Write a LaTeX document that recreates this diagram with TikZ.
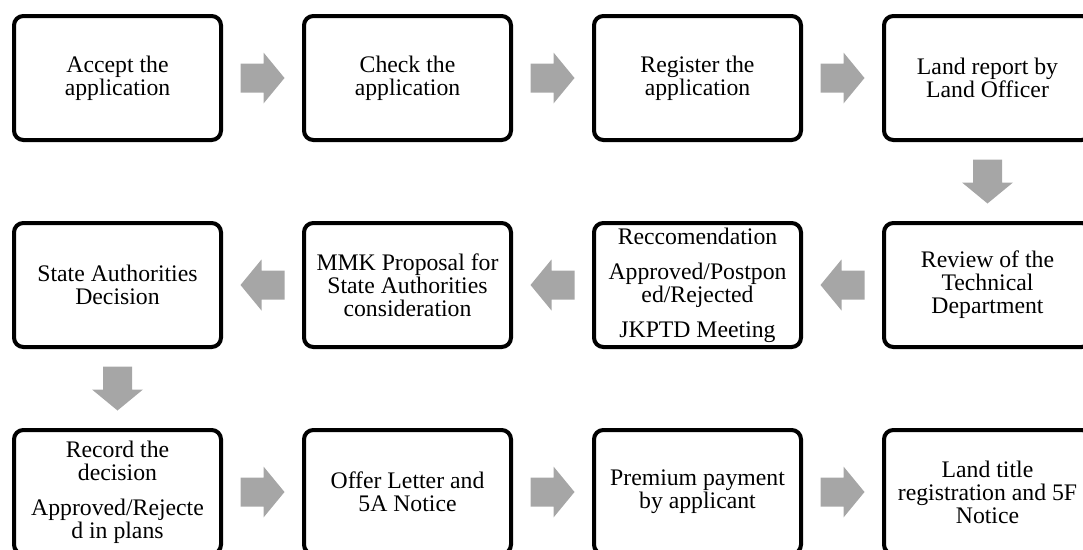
\documentclass[tikz,border=0pt]{standalone}
\usepackage{fontspec}
\setmainfont{Liberation Serif}
\usetikzlibrary{positioning,calc}

\tikzset{
  stepbox/.style={draw, line width=3pt, rounded corners=7pt, align=center,
    minimum width=155.25pt, minimum height=93pt, inner sep=2pt,
    font=\fontsize{17.8}{17.3}\selectfont},
  blkarrow/.pic={
    \fill[gray!70] (-22,-14.5) -- (1,-14.5) -- (1,-25.5) -- (22,0)
      -- (1,25.5) -- (1,14.5) -- (-22,14.5) -- cycle;
  }
}

\begin{document}
\begin{tikzpicture}[x=0.75pt, y=-0.75pt, node distance=59.25pt]
  \clip (0,0) rectangle (1083,550);
  % first row, left to right
  \node[stepbox] (accept) at (117.5,78) {Accept the\\application};
  \node[stepbox, right=of accept] (check) {Check the\\application};
  \node[stepbox, right=of check] (register) {Register the\\application};
  \node[stepbox, right=of register] (landrep) {Land report by\\Land Officer};
  % second row, right to left
  \node[stepbox, below=of landrep] (review) {Review of the\\Technical\\Department};
  \node[stepbox, left=of review] (recomm)
    {Reccomendation\\[9pt]Approved/Postpon\\ed/Rejected\\[9pt]JKPTD Meeting};
  \node[stepbox, left=of recomm] (proposal)
    {MMK Proposal for\\State Authorities\\consideration};
  \node[stepbox, left=of proposal] (statedec) {State Authorities\\Decision};
  % third row, left to right
  \node[stepbox, below=of statedec] (record)
    {Record the\\decision\\[9pt]Approved/Rejecte\\d in plans};
  \node[stepbox, right=of record] (offer) {Offer Letter and\\5A Notice};
  \node[stepbox, right=of offer] (premium) {Premium payment\\by applicant};
  \node[stepbox, right=of premium] (title) {Land title\\registration and 5F\\Notice};
  % block arrows between the steps
  \pic at ($(accept.east)!0.5!(check.west)$) {blkarrow};
  \pic at ($(check.east)!0.5!(register.west)$) {blkarrow};
  \pic at ($(register.east)!0.5!(landrep.west)$) {blkarrow};
  \pic[rotate=-90] at ($(landrep.south)!0.5!(review.north)$) {blkarrow};
  \pic[rotate=180] at ($(review.west)!0.5!(recomm.east)$) {blkarrow};
  \pic[rotate=180] at ($(recomm.west)!0.5!(proposal.east)$) {blkarrow};
  \pic[rotate=180] at ($(proposal.west)!0.5!(statedec.east)$) {blkarrow};
  \pic[rotate=-90] at ($(statedec.south)!0.5!(record.north)$) {blkarrow};
  \pic at ($(record.east)!0.5!(offer.west)$) {blkarrow};
  \pic at ($(offer.east)!0.5!(premium.west)$) {blkarrow};
  \pic at ($(premium.east)!0.5!(title.west)$) {blkarrow};
\end{tikzpicture}
\end{document}
